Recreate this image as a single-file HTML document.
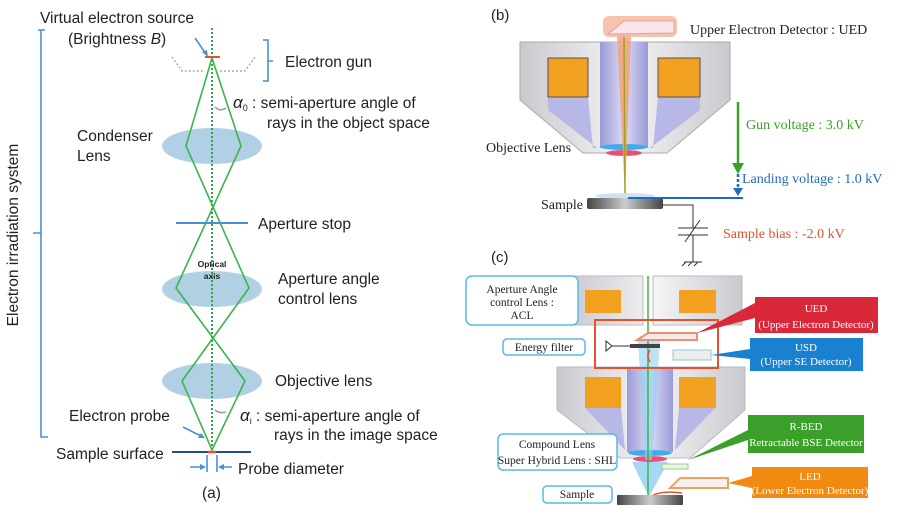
<!DOCTYPE html>
<html><head><meta charset="utf-8"><style>
html,body{margin:0;padding:0;background:#fff}
svg{display:block}
.s{font-family:"Liberation Sans",sans-serif;fill:#222}
.r{font-family:"Liberation Serif",serif;fill:#222}
</style></head><body>
<svg width="900" height="522" viewBox="0 0 900 522" xmlns="http://www.w3.org/2000/svg">
<defs>
<linearGradient id="gb" x1="0" x2="1"><stop offset="0" stop-color="#c9c9cf"/><stop offset=".5" stop-color="#f4f4f6"/><stop offset="1" stop-color="#c9c9cf"/></linearGradient>
<linearGradient id="bore" x1="0" x2="1"><stop offset="0" stop-color="#9a9ad8"/><stop offset=".5" stop-color="#dcdcf4"/><stop offset="1" stop-color="#9a9ad8"/></linearGradient>
<linearGradient id="sm" x1="0" x2="1"><stop offset="0" stop-color="#444"/><stop offset=".5" stop-color="#ccc"/><stop offset="1" stop-color="#444"/></linearGradient>
</defs>
<!-- Panel (a) -->
<g fill="#a9cbe2" opacity=".9">
<ellipse cx="212" cy="146" rx="50" ry="18"/>
<ellipse cx="212" cy="289" rx="50" ry="18"/>
<ellipse cx="212" cy="381" rx="50" ry="18"/>
</g>
<line x1="212" y1="28" x2="212" y2="450" stroke="#2aa84a" stroke-width="2" stroke-dasharray="2,2"/>
<path d="M212,58 L186,146 L249,288 L182,381 L212,450 L245,381 L176,288 L241,146 Z" fill="none" stroke="#3ab54a" stroke-width="1.6"/>
<line x1="205" y1="57" x2="220" y2="57" stroke="#e8502a" stroke-width="2"/>
<path d="M172,57 L182,71 L205,71 M220,71 L245,71 L255,57" fill="none" stroke="#999" stroke-width="1.2" stroke-dasharray="2,2"/>
<line x1="176" y1="223" x2="248" y2="223" stroke="#4a8fd6" stroke-width="2"/>
<line x1="172" y1="452" x2="251" y2="452" stroke="#1f4e9a" stroke-width="2"/>
<line x1="208" y1="452" x2="216" y2="452" stroke="#e8502a" stroke-width="2.5"/>
<g stroke="#4a8fd6" stroke-width="1.6" fill="none">
<path d="M38,30 L45,30 M41,30 L41,437 L48,437 M41,233 L33,233"/>
<path d="M263,40 L268,40 L268,81 L263,81 M268,61 L273,61"/>
<path d="M195,38 L206,54"/><path d="M183,427 L203,437"/>
<path d="M207,455 L207,472 M217,455 L217,472"/>
<path d="M190,467 L204,467 M232,467 L220,467"/>
</g>
<g fill="#4a8fd6"><path d="M208,57 L202,52 L207,50Z"/><path d="M205,438 L198,438 L201,433Z"/><path d="M206,467 L200,464 L200,470Z"/><path d="M218,467 L224,464 L224,470Z"/></g>
<path d="M215,107 Q220,112 226,108" stroke="#999" fill="none" stroke-width="1.5"/>
<path d="M215,410 Q220,414 226,412" stroke="#999" fill="none" stroke-width="1.5"/>
<g class="s" font-size="15.5">
<text x="40" y="23">Virtual electron source</text>
<text x="68" y="44">(Brightness <tspan font-style="italic">B</tspan>)</text>
<text x="285" y="67">Electron gun</text>
<text x="233" y="108"><tspan font-style="italic" font-size="17">α</tspan><tspan font-size="9" dy="3">0</tspan><tspan dy="-3"> : semi-aperture angle of</tspan></text>
<text x="267" y="128">rays in the object space</text>
<text x="77" y="141">Condenser</text>
<text x="77" y="161">Lens</text>
<text x="258" y="229">Aperture stop</text>
<text x="278" y="284">Aperture angle</text>
<text x="278" y="304">control lens</text>
<text x="275" y="386">Objective lens</text>
<text x="69" y="421">Electron probe</text>
<text x="240" y="421"><tspan font-style="italic" font-size="17">α</tspan><tspan font-size="9" dy="3">i</tspan><tspan dy="-3"> : semi-aperture angle of</tspan></text>
<text x="274" y="440">rays in the image space</text>
<text x="56" y="459">Sample surface</text>
<text x="238" y="474">Probe diameter</text>
<text x="202" y="498">(a)</text>
<text transform="translate(18,235) rotate(-90)" text-anchor="middle">Electron irradiation system</text>
</g>
<g class="s" font-size="8.5" font-weight="bold" text-anchor="middle"><text x="212" y="267">Optical</text><text x="212" y="279">axis</text></g>

<!-- Panel (b) -->
<text class="s" x="491" y="20" font-size="15">(b)</text>
<path d="M520,42 L730,42 L730,100 L667,153 L583,153 L520,100 Z" fill="url(#gb)" stroke="#aaa"/>
<path d="M548,97 L588,97 L593,148 L597,148 L548,110Z" fill="#b8b8e6"/>
<path d="M700,97 L658,97 L653,148 L650,148 L700,110Z" fill="#b8b8e6"/>
<rect x="548" y="58" width="40" height="39" fill="#f2a020" stroke="#555" stroke-width="1"/>
<rect x="658" y="58" width="42" height="39" fill="#f2a020" stroke="#555" stroke-width="1"/>
<rect x="600" y="42" width="48" height="106" fill="url(#bore)"/>
<ellipse cx="624" cy="147" rx="24" ry="3" fill="#3aaeea"/>
<ellipse cx="624" cy="153" rx="18" ry="3" fill="#e8507a"/>
<path d="M617,35 L631,35 L625,197 Z" fill="#f2a070" opacity=".8"/>
<line x1="624" y1="35" x2="625" y2="197" stroke="#a0a020" stroke-width="1.5"/>
<rect x="603" y="16" width="74" height="21" rx="6" fill="#f4b8a0" opacity=".85"/>
<path d="M608,34 L624,21 L674,21 L674,33 Z" fill="#f9e6ea" stroke="#e0a0a0"/>
<text class="r" x="690" y="34" font-size="14">Upper Electron Detector : UED</text>
<text class="r" x="486" y="152" font-size="14">Objective Lens</text>
<ellipse cx="625" cy="196" rx="30" ry="3" fill="#cfe2f4"/>
<rect x="587" y="198" width="76" height="11" rx="2" fill="url(#sm)"/>
<text class="r" x="541" y="209" font-size="14">Sample</text>
<line x1="738" y1="102" x2="738" y2="165" stroke="#3aa02a" stroke-width="2.5"/>
<path d="M732,163 L744,163 L738,174Z" fill="#3aa02a"/>
<line x1="738" y1="174" x2="738" y2="188" stroke="#1f6ac0" stroke-width="2.5" stroke-dasharray="3,2"/>
<path d="M733,188 L743,188 L738,196Z" fill="#1f6ac0"/>
<line x1="628" y1="198" x2="743" y2="198" stroke="#1f6ac0" stroke-width="2"/>
<text class="r" x="746" y="129" font-size="14" style="fill:#3aa02a">Gun voltage : 3.0 kV</text>
<text class="r" x="742" y="183" font-size="14" style="fill:#1f6ac0">Landing voltage : 1.0 kV</text>
<path d="M663,205 L693,205 L693,228 M678,228 L708,228 M678,235 L708,235 M693,235 L693,262 M684,262 L702,262 M686,262 L682,266 M692,262 L688,266 M698,262 L694,266 M685,242 L700,220" stroke="#333" fill="none" stroke-width="1"/>
<text class="r" x="723" y="238" font-size="14" style="fill:#e8502a">Sample bias : -2.0 kV</text>

<!-- Panel (c) -->
<text class="s" x="491" y="262" font-size="15">(c)</text>
<path d="M570,276 L643,276 L643,325 L570,325Z M653,276 L742,276 L742,325 L653,325Z" fill="url(#gb)" stroke="#bbb"/>
<rect x="585" y="290" width="36" height="23" fill="#f2a020"/>
<rect x="679" y="290" width="37" height="23" fill="#f2a020"/>
<path d="M557,367 L745,367 L745,410 L690,458 L620,458 L557,410Z" fill="url(#gb)" stroke="#bbb"/>
<path d="M585,408 L621,408 L625,450 Z M715,408 L679,408 L675,450Z" fill="#b8b8e6"/>
<rect x="585" y="377" width="36" height="31" fill="#f2a020"/>
<rect x="679" y="377" width="37" height="31" fill="#f2a020"/>
<rect x="627" y="367" width="46" height="85" fill="url(#bore)"/>
<ellipse cx="650" cy="453" rx="22" ry="3" fill="#3aaeea"/>
<ellipse cx="650" cy="459" rx="17" ry="3" fill="#e8507a"/>
<path d="M632,462 L668,462 L649,497Z" fill="#8fd0f0" opacity=".8"/>
<path d="M638,340 L660,340 L652,460 L645,460Z" fill="#8fd0f0" opacity=".6"/>
<rect x="662" y="464" width="26" height="5" fill="#e8f4e0" stroke="#9c9"/>
<line x1="648" y1="276" x2="648" y2="500" stroke="#3ab54a" stroke-width="1.5"/>
<rect x="595" y="320" width="123" height="48" fill="none" stroke="#e8502a" stroke-width="2"/>
<path d="M606,341 L612,346 L606,351 Z M612,346 L630,346" stroke="#333" fill="none"/>
<rect x="630" y="344" width="30" height="4" fill="#444"/>
<path d="M650,350 Q646,356 650,362" stroke="#e8502a" fill="none" stroke-width="1.5"/>
<path d="M637,340 L648,333 L697,333 L697,340Z" fill="#f7e8ec" stroke="#e89070" stroke-width="2"/>
<rect x="673" y="350" width="38" height="10" fill="#eee" stroke="#8cc"/>
<path d="M682,493 Q660,490 650,497" stroke="#e8502a" fill="none" stroke-width="1.5"/>
<path d="M670,488 L680,478 L728,478 L728,488Z" fill="#f7f0f0" stroke="#f0a060" stroke-width="2"/>
<rect x="617" y="495" width="66" height="10" rx="1" fill="url(#sm)"/>
<!-- pointers -->
<path d="M697,333 L755,303 L755,318Z" fill="#d8283a"/>
<path d="M711,355 L750,349 L750,359Z" fill="#1a80d0"/>
<path d="M688,460 L748,430 L748,440Z" fill="#3aa02a"/>
<path d="M728,483 L752,476 L752,488Z" fill="#f08a10"/>
<rect x="755" y="297" width="123" height="36" fill="#d8283a"/>
<rect x="750" y="338" width="113" height="33" fill="#1a80d0"/>
<rect x="748" y="415" width="116" height="38" fill="#3aa02a"/>
<rect x="752" y="467" width="116" height="31" fill="#f08a10"/>
<g class="r" font-size="11" text-anchor="middle">
<text x="816" y="312" style="fill:#fff">UED</text><text x="816" y="328" style="fill:#fff">(Upper Electron Detector)</text>
<text x="806" y="351" style="fill:#fff">USD</text><text x="806" y="365" style="fill:#fff">(Upper SE Detector)</text>
<text x="806" y="430" style="fill:#fff">R-BED</text><text x="806" y="446" style="fill:#fff">Retractable BSE Detector</text>
<text x="810" y="480" style="fill:#fff">LED</text><text x="810" y="494" style="fill:#fff">(Lower Electron Detector)</text>
</g>
<g fill="#fff" stroke="#5ab8ea" stroke-width="1.5">
<rect x="466" y="276" width="112" height="49" rx="6"/>
<rect x="503" y="339" width="82" height="16" rx="4"/>
<rect x="498" y="434" width="119" height="36" rx="5"/>
<rect x="543" y="486" width="69" height="17" rx="4"/>
</g>
<g class="r" font-size="11.5" text-anchor="middle">
<text x="522" y="293">Aperture Angle</text><text x="522" y="306">control Lens :</text><text x="522" y="319">ACL</text>
<text x="544" y="351">Energy filter</text>
<text x="557" y="448">Compound Lens</text><text x="557" y="464">Super Hybrid Lens : SHL</text>
<text x="577" y="498">Sample</text>
</g>
</svg>
</body></html>
